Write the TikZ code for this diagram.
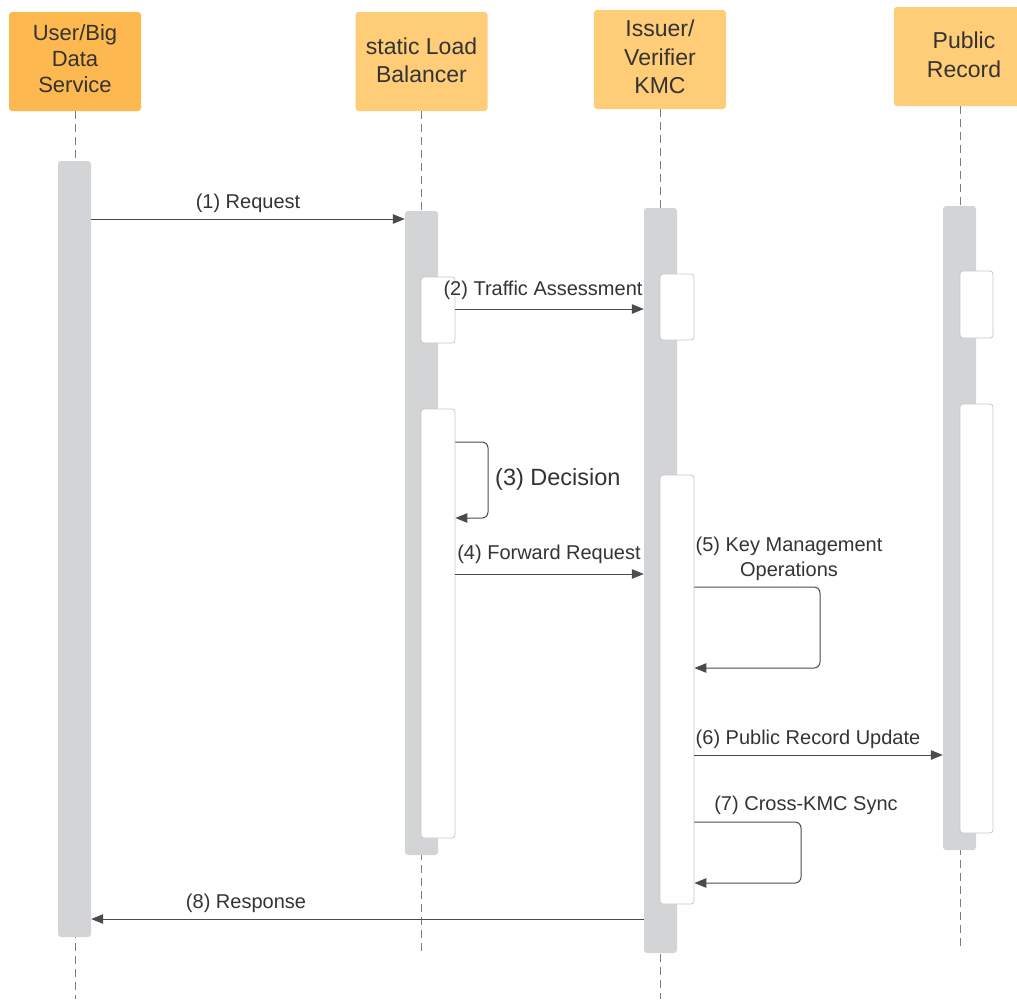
\documentclass[tikz,border=0pt]{standalone}
\usepackage{fontspec}
\setmainfont{Liberation Sans}
\usetikzlibrary{arrows.meta}

\definecolor{hdrA}{RGB}{253,185,80}
\definecolor{hdrB}{RGB}{255,204,120}
\definecolor{txt}{RGB}{51,51,51}
\definecolor{barfill}{RGB}{211,212,214}
\definecolor{actedge}{RGB}{200,200,202}
\definecolor{life}{RGB}{125,125,125}
\definecolor{wire}{RGB}{75,75,75}

\tikzset{
  head/.style={rectangle, rounded corners=3pt, minimum width=132pt, minimum height=99pt,
    inner sep=0pt, align=center, text=txt, font=\fontsize{23}{28.5}\selectfont},
  lifebar/.style={rectangle, rounded corners=3pt, fill=barfill, minimum width=33pt, inner sep=0pt},
  act/.style={rectangle, rounded corners=3pt, fill=white, draw=actedge, line width=0.8pt,
    minimum width=34pt, inner sep=0pt},
  lifeline/.style={draw=life, line width=0.9pt, dash pattern=on 8pt off 5pt},
  msg/.style={draw=wire, line width=1pt, -{Triangle[length=12pt,width=9.5pt]}},
  loopmsg/.style={msg, rounded corners=6pt},
  lbl/.style={text=txt, font=\fontsize{20}{25}\selectfont, inner sep=0pt, align=center},
}

\begin{document}
\begin{tikzpicture}[x=1pt,y=-1pt]
\useasboundingbox (0,0) rectangle (1017,999);

% participant headers (boxes and their captions)
\node[head, fill=hdrA] (user) at (75,61.5) {};
\node[text=txt, align=center, font=\fontsize{22}{26}\selectfont] (userT) at (75,58.5) {User/Big\\Data\\Service};
\node[head, fill=hdrB] (lb) at (421.5,61.5) {};
\node[text=txt, align=center, font=\fontsize{23}{28.5}\selectfont] (lbT) at (421.5,60.5) {static Load\\Balancer};
\node[head, fill=hdrB] (kmc) at (660,59.5) {};
\node[text=txt, align=center, font=\fontsize{23}{28.5}\selectfont] (kmcT) at (660,57) {Issuer/\\Verifier\\KMC};
\node[head, fill=hdrB, minimum width=140pt] (pub) at (964,56.5) {};
\node[text=txt, align=center, font=\fontsize{23}{28.5}\selectfont] (pubT) at (964,55) {Public\\Record};

% lifeline ends
\coordinate (userEnd) at (75,999);
\coordinate (lbEnd) at (421,953);
\coordinate (kmcEnd) at (660,999);
\coordinate (pubEnd) at (960,948);

\draw[lifeline] (user.south -| userEnd) -- (userEnd);
\draw[lifeline] (lb.south -| lbEnd) -- (lbEnd);
\draw[lifeline] (kmc.south -| kmcEnd) -- (kmcEnd);
\draw[lifeline] (pub.south -| pubEnd) -- (pubEnd);

% execution bars
\node[lifebar, minimum height=776pt] (barU) at (74.5,549) {};
\node[lifebar, minimum height=644pt] (barL) at (421.5,533) {};
\node[lifebar, minimum height=745pt] (barK) at (660.5,580.5) {};
\node[lifebar, minimum height=644pt] (barP) at (959.5,528) {};

% nested activations
\node[act, minimum height=66pt] (actL1) at (438,310) {};
\node[act, minimum height=429pt] (actL2) at (438,623.5) {};
\node[act, minimum height=66pt] (actK1) at (677,307) {};
\node[act, minimum height=429pt] (actK2) at (677,689.5) {};
\node[act, minimum height=67pt, minimum width=33pt] (actP1) at (976.5,304.5) {};
\node[act, minimum height=429pt, minimum width=33pt] (actP2) at (976.5,618.5) {};

% (1) request
\draw[msg] (barU.east |- 0,219) -- (barL.west |- 0,219);
\node[lbl] (l1) at (248,203) {(1) Request};

% (2) traffic assessment
\draw[msg] (actL1.east |- 0,309) -- (barK.west |- 0,309);
\node[lbl] (l2) at (543,290) {(2) Traffic Assessment};

% (3) decision
\draw[loopmsg] (actL2.east |- 0,442) -| (488,518) -- (actL2.east |- 0,518);
\node[lbl, anchor=west, font=\fontsize{23.5}{28}\selectfont] (l3) at (495,479) {(3) Decision};

% (4) forward request
\draw[msg] (actL2.east |- 0,574) -- (barK.west |- 0,574);
\node[lbl] (l4) at (549,554) {(4) Forward Request};

% (5) key management operations
\node[lbl] (l5) at (789,558.5) {(5) Key Management\\Operations};
\draw[loopmsg] (actK2.east |- 0,587) -| (820,668) -- (actK2.east |- 0,668);

% (6) public record update
\draw[msg] (actK2.east |- 0,755) -- (barP.west |- 0,755);
\node[lbl] (l6) at (808,739) {(6) Public Record Update};

% (7) cross-KMC sync
\node[lbl] (l7) at (806,805) {(7) Cross-KMC Sync};
\draw[loopmsg] (actK2.east |- 0,822) -| (801,883) -- (actK2.east |- 0,883);

% (8) response
\draw[msg] (barK.west |- 0,919) -- (barU.east |- 0,919);
\node[lbl] (l8) at (246,903) {(8) Response};

\end{tikzpicture}
\end{document}
